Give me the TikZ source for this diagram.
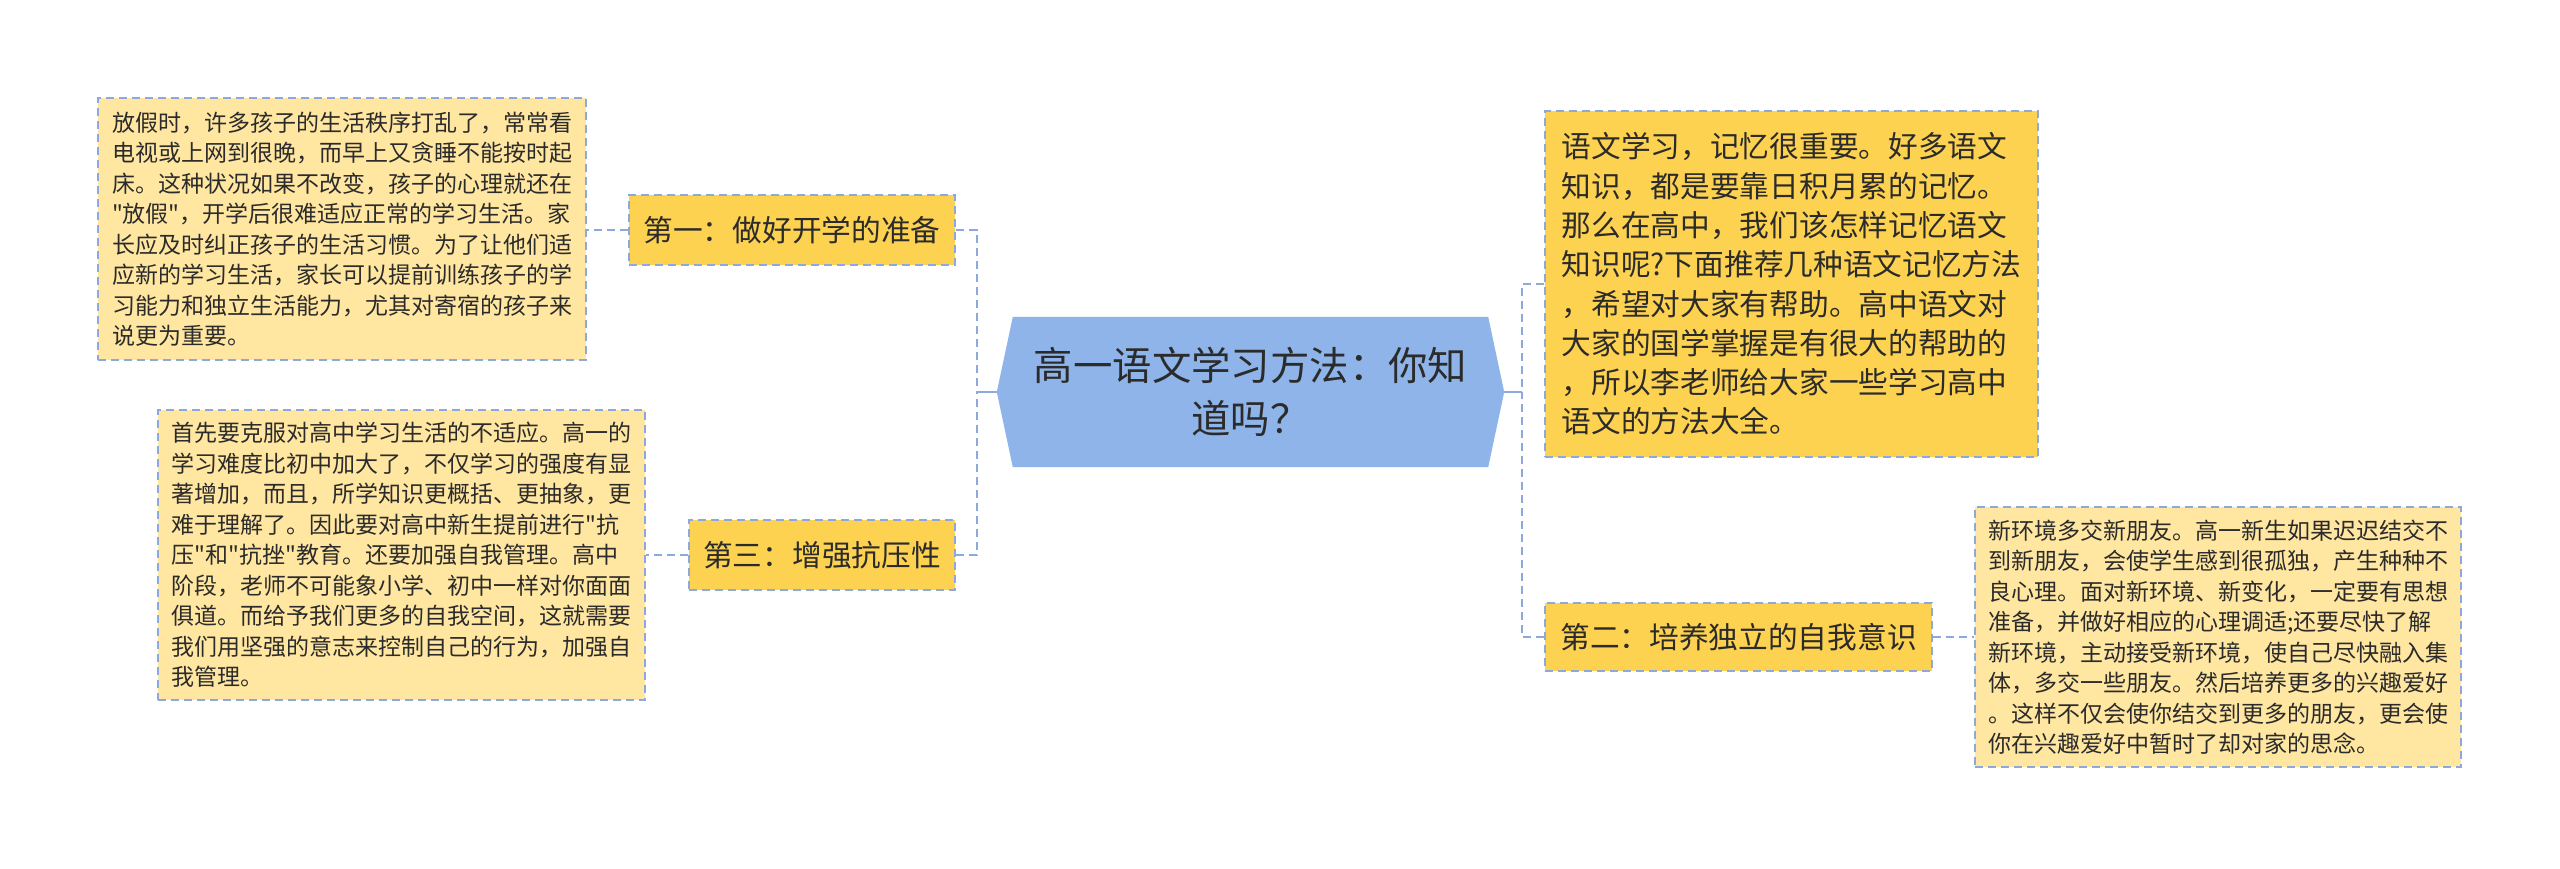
\documentclass[tikz,border=0pt]{standalone}
\usepackage{fontspec}
\setmainfont[Ligatures=TeXOff]{Noto Sans CJK SC}
\definecolor{cblue}{HTML}{8EB4E9}
\definecolor{cgold}{HTML}{FDD250}
\definecolor{clight}{HTML}{FFE6A1}
\definecolor{cline}{HTML}{8DA9DC}
\definecolor{ctext}{HTML}{2B2B2B}
\tikzset{
  dline/.style={draw=cline, line width=2.2pt, dash pattern=on 8pt off 5pt},
  sline/.style={draw=cline, line width=2.6pt},
  goldbox/.style={rectangle, fill=cgold, dline, inner sep=0pt, align=left, text=ctext},
  detailbox/.style={rectangle, fill=clight, dline, inner sep=0pt, align=left, text=ctext,
    font=\fontsize{23}{30.5}\selectfont},
  labelfont/.style={font=\fontsize{29.7}{39}\selectfont},
}
\begin{document}
\begin{tikzpicture}[x=1pt,y=-1pt]
\useasboundingbox (0,0) rectangle (2560,869);
\fill[white] (0,0) rectangle (2560,869);

% central node
\node[rectangle, inner sep=0pt, minimum width=507pt, minimum height=150pt,
  align=center, text=ctext, font=\fontsize{39.4}{53}\selectfont] (c) at (1250.5,392) {};
\fill[cblue] (c.west) -- ([xshift=16pt]c.north west) -- ([xshift=-16pt]c.north east)
  -- (c.east) -- ([xshift=-16pt]c.south east) -- ([xshift=16pt]c.south west) -- cycle;
\node[align=center, text=ctext, font=\fontsize{39.4}{53}\selectfont, inner sep=0pt] (ct) at (c.center)
  {高一语文学习方法：你知\\道吗？};

% left branches
\node[goldbox, labelfont, minimum width=326pt, minimum height=70pt] (b1) at (792,230)
  {第一：做好开学的准备};
\node[goldbox, labelfont, minimum width=266pt, minimum height=70pt] (b3) at (822,555)
  {第三：增强抗压性};
\node[detailbox, minimum width=488pt, minimum height=262pt] (d1) at (342,229)
  {放假时，许多孩子的生活秩序打乱了，常常看\\
   电视或上网到很晚，而早上又贪睡不能按时起\\
   床。这种状况如果不改变，孩子的心理就还在\\
   "放假"，开学后很难适应正常的学习生活。家\\
   长应及时纠正孩子的生活习惯。为了让他们适\\
   应新的学习生活，家长可以提前训练孩子的学\\
   习能力和独立生活能力，尤其对寄宿的孩子来\\
   说更为重要。};
\node[detailbox, minimum width=487pt, minimum height=290pt] (d3) at (401.5,555)
  {首先要克服对高中学习生活的不适应。高一的\\
   学习难度比初中加大了，不仅学习的强度有显\\
   著增加，而且，所学知识更概括、更抽象，更\\
   难于理解了。因此要对高中新生提前进行"抗\\
   压"和"抗挫"教育。还要加强自我管理。高中\\
   阶段，老师不可能象小学、初中一样对你面面\\
   俱道。而给予我们更多的自我空间，这就需要\\
   我们用坚强的意志来控制自己的行为，加强自\\
   我管理。};

% right branches
\node[goldbox, font=\fontsize{29.7}{39.3}\selectfont, minimum width=493pt, minimum height=346pt] (r1) at (1791.5,284)
  {语文学习，记忆很重要。好多语文\\
   知识，都是要靠日积月累的记忆。\\
   那么在高中，我们该怎样记忆语文\\
   知识呢?下面推荐几种语文记忆方法\\
   ，希望对大家有帮助。高中语文对\\
   大家的国学掌握是有很大的帮助的\\
   ，所以李老师给大家一些学习高中\\
   语文的方法大全。};
\node[goldbox, labelfont, minimum width=387pt, minimum height=68pt] (b2) at (1738.5,637)
  {第二：培养独立的自我意识};
\node[detailbox, minimum width=486pt, minimum height=260pt] (d2) at (2218,637)
  {新环境多交新朋友。高一新生如果迟迟结交不\\
   到新朋友，会使学生感到很孤独，产生种种不\\
   良心理。面对新环境、新变化，一定要有思想\\
   准备，并做好相应的心理调适;还要尽快了解\\
   新环境，主动接受新环境，使自己尽快融入集\\
   体，多交一些朋友。然后培养更多的兴趣爱好\\
   。这样不仅会使你结交到更多的朋友，更会使\\
   你在兴趣爱好中暂时了却对家的思念。};

% spines
\coordinate (sl) at (977,392);
\coordinate (sr) at (1522,392);

\draw[sline] (c.west) -- (sl);
\draw[sline] (c.east) -- (sr);
\draw[dline] (b1.east) -| (sl);
\draw[dline] (b3.east) -| (sl);
\draw[dline] (r1.west) -| (sr);
\draw[dline] (b2.west) -| (sr);

\draw[dline] (b1.west) -- (b1.west -| d1.east);
\draw[dline] (b3.west) -- (b3.west -| d3.east);
\draw[dline] (b2.east) -- (b2.east -| d2.west);
\end{tikzpicture}
\end{document}
